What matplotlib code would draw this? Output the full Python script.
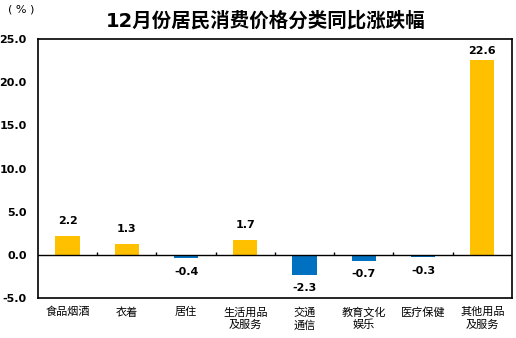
import numpy as np
import matplotlib
matplotlib.use('Agg')
import matplotlib.pyplot as plt

plt.rcParams['font.family'] = ['DejaVu Sans', 'Noto Sans CJK SC']

categories = ['食品烟酒', '衣着', '居住', '生活用品\n及服务', '交通\n通信', '教育文化\n娱乐', '医疗保健', '其他用品\n及服务']
values = [2.2, 1.3, -0.4, 1.7, -2.3, -0.7, -0.3, 22.6]
yticks = [-5.0, 0.0, 5.0, 10.0, 15.0, 20.0, 25.0]

pos_color = '#FFC000'
neg_color = '#0070C0'

fig = plt.figure(figsize=(5.16, 3.38), dpi=100)
ax = fig.add_axes([0.0736, 0.1183, 0.9184, 0.7663])

x = np.arange(len(categories))
colors = [pos_color if v >= 0 else neg_color for v in values]
ax.bar(x, values, width=0.41, color=colors, zorder=2)

# value labels (the tall one is squeezed under the frame)
for xi, v in zip(x, values):
    if v >= 0:
        off = 7 if v < 20 else 2.5
        ax.annotate(f'{v:.1f}', (xi, v), xytext=(0, off), textcoords='offset points',
                    ha='center', va='bottom', fontsize=8, fontweight='bold')
    else:
        ax.annotate(f'{v:.1f}', (xi, v), xytext=(0, -6), textcoords='offset points',
                    ha='center', va='top', fontsize=8, fontweight='bold')

ax.axhline(0, color='black', lw=1, zorder=3)
# small ticks between categories on the zero line
ax.vlines(x[:-1] + 0.5, 0, 0.35, color='black', lw=1, zorder=3)

ax.set_xlim(-0.5, len(categories) - 0.5)
ax.set_ylim(-5, 25)
ax.set_yticks(yticks)
ax.set_yticklabels([f'{t:.1f}' for t in yticks], fontsize=8, fontweight='bold')
ax.tick_params(axis='y', length=0, pad=8)
ax.set_xticks(x)
ax.set_xticklabels(categories, fontsize=8, linespacing=1.25,
                   family=['Noto Sans CJK SC', 'DejaVu Sans'])
ax.tick_params(axis='x', length=0, pad=6.5)
for s in ax.spines.values():
    s.set_linewidth(1.2)

fig.text(0.514, 0.94, '12月份居民消费价格分类同比涨跌幅', ha='center', va='center',
         fontsize=14, fontweight='bold')
fig.text(0.015, 0.972, '( % )', ha='left', va='center', fontsize=8)

fig.savefig('out.png', dpi=100)
